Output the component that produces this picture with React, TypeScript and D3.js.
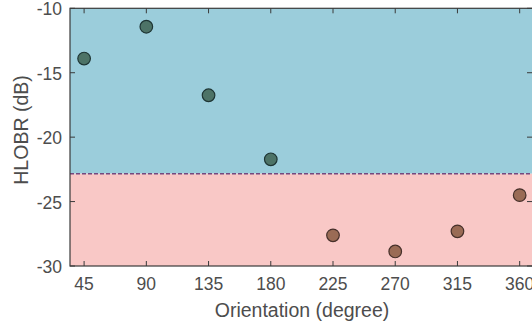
import React, { useEffect, useRef } from "react";
import * as d3 from "d3";

const angles = [45, 90, 135, 180, 225, 270, 315, 360];
const hlobr = [-13.9, -11.43, -16.75, -21.72, -27.62, -28.87, -27.31, -24.5];
const threshold = -22.84;
const xTicks = [45, 90, 135, 180, 225, 270, 315, 360];
const yTicks = [-10, -15, -20, -25, -30];

const App = () => {
  const ref = useRef<SVGSVGElement>(null);

  useEffect(() => {
    const svg = d3.select(ref.current);
    svg.selectAll("*").remove();

    const width = 532;
    const margin = { top: 8.3, right: -1.5, bottom: 60, left: 70 };
    const font = "'Liberation Sans', Arial, sans-serif";

    const x = d3.scaleLinear().domain([34.8, 370]).range([margin.left, width - margin.right]);
    const y = d3.scaleLinear().domain([-30, -10]).range([266, margin.top]);

    const x0 = x.range()[0];
    const x1 = x.range()[1];

    // background regions
    svg.append("rect")
      .attr("x", x0).attr("y", y(-10))
      .attr("width", x1 - x0).attr("height", y(threshold) - y(-10))
      .attr("fill", "#9bcddb");
    svg.append("rect")
      .attr("x", x0).attr("y", y(threshold))
      .attr("width", x1 - x0).attr("height", y(-30) - y(threshold))
      .attr("fill", "#f9c8c6");

    svg.append("line")
      .attr("x1", x0).attr("x2", x1)
      .attr("y1", y(threshold)).attr("y2", y(threshold))
      .attr("stroke", "#74487e").attr("stroke-width", 1.3)
      .attr("stroke-dasharray", "4,2");

    // box + ticks
    const axisColor = "#3a3a3a";
    svg.append("rect")
      .attr("x", x0).attr("y", y(-10))
      .attr("width", x1 - x0).attr("height", y(-30) - y(-10))
      .attr("fill", "none").attr("stroke", axisColor).attr("stroke-width", 1.2);

    const tl = 5;
    const g = svg.append("g").attr("stroke", axisColor).attr("stroke-width", 1);
    xTicks.forEach((t) => {
      g.append("line").attr("x1", x(t)).attr("x2", x(t)).attr("y1", y(-30)).attr("y2", y(-30) - tl);
      g.append("line").attr("x1", x(t)).attr("x2", x(t)).attr("y1", y(-10)).attr("y2", y(-10) + tl);
    });
    yTicks.forEach((t) => {
      g.append("line").attr("x1", x0).attr("x2", x0 + tl).attr("y1", y(t)).attr("y2", y(t));
      g.append("line").attr("x1", x1).attr("x2", x1 - tl - 1.5).attr("y1", y(t)).attr("y2", y(t));
    });

    svg.append("g")
      .selectAll("text")
      .data(xTicks)
      .join("text")
      .attr("x", (d) => x(d))
      .attr("y", 290)
      .attr("text-anchor", "middle")
      .attr("font-family", font)
      .attr("font-size", 17.5)
      .attr("fill", "#4d4d4d")
      .text((d) => d);

    svg.append("g")
      .selectAll("text")
      .data(yTicks)
      .join("text")
      .attr("x", 62)
      .attr("y", (d) => y(d) + 7)
      .attr("text-anchor", "end")
      .attr("font-family", font)
      .attr("font-size", 17.5)
      .attr("fill", "#4d4d4d")
      .text((d) => d);

    svg.append("text")
      .attr("x", 302)
      .attr("y", 317)
      .attr("text-anchor", "middle")
      .attr("font-family", font)
      .attr("font-size", 19.5)
      .attr("fill", "#4d4d4d")
      .text("Orientation (degree)");

    svg.append("text")
      .attr("transform", `translate(28,130) rotate(-90)`)
      .attr("text-anchor", "middle")
      .attr("font-family", font)
      .attr("font-size", 19.5)
      .attr("fill", "#4d4d4d")
      .text("HLOBR (dB)");

    // points
    svg.append("g")
      .selectAll("circle")
      .data(angles.map((a, i) => ({ a, v: hlobr[i] })))
      .join("circle")
      .attr("cx", (d) => x(d.a))
      .attr("cy", (d) => y(d.v))
      .attr("r", 6.3)
      .attr("fill", (d) => (d.v > threshold ? "#4d7367" : "#9a6b55"))
      .attr("stroke", (d) => (d.v > threshold ? "#1e3534" : "#46302a"))
      .attr("stroke-width", 1.2);
  }, []);

  return (
    <svg
      ref={ref}
      width={532}
      height={326}
      style={{ position: "absolute", left: 0, top: 0, background: "#fff" }}
    />
  );
};

export default App;
